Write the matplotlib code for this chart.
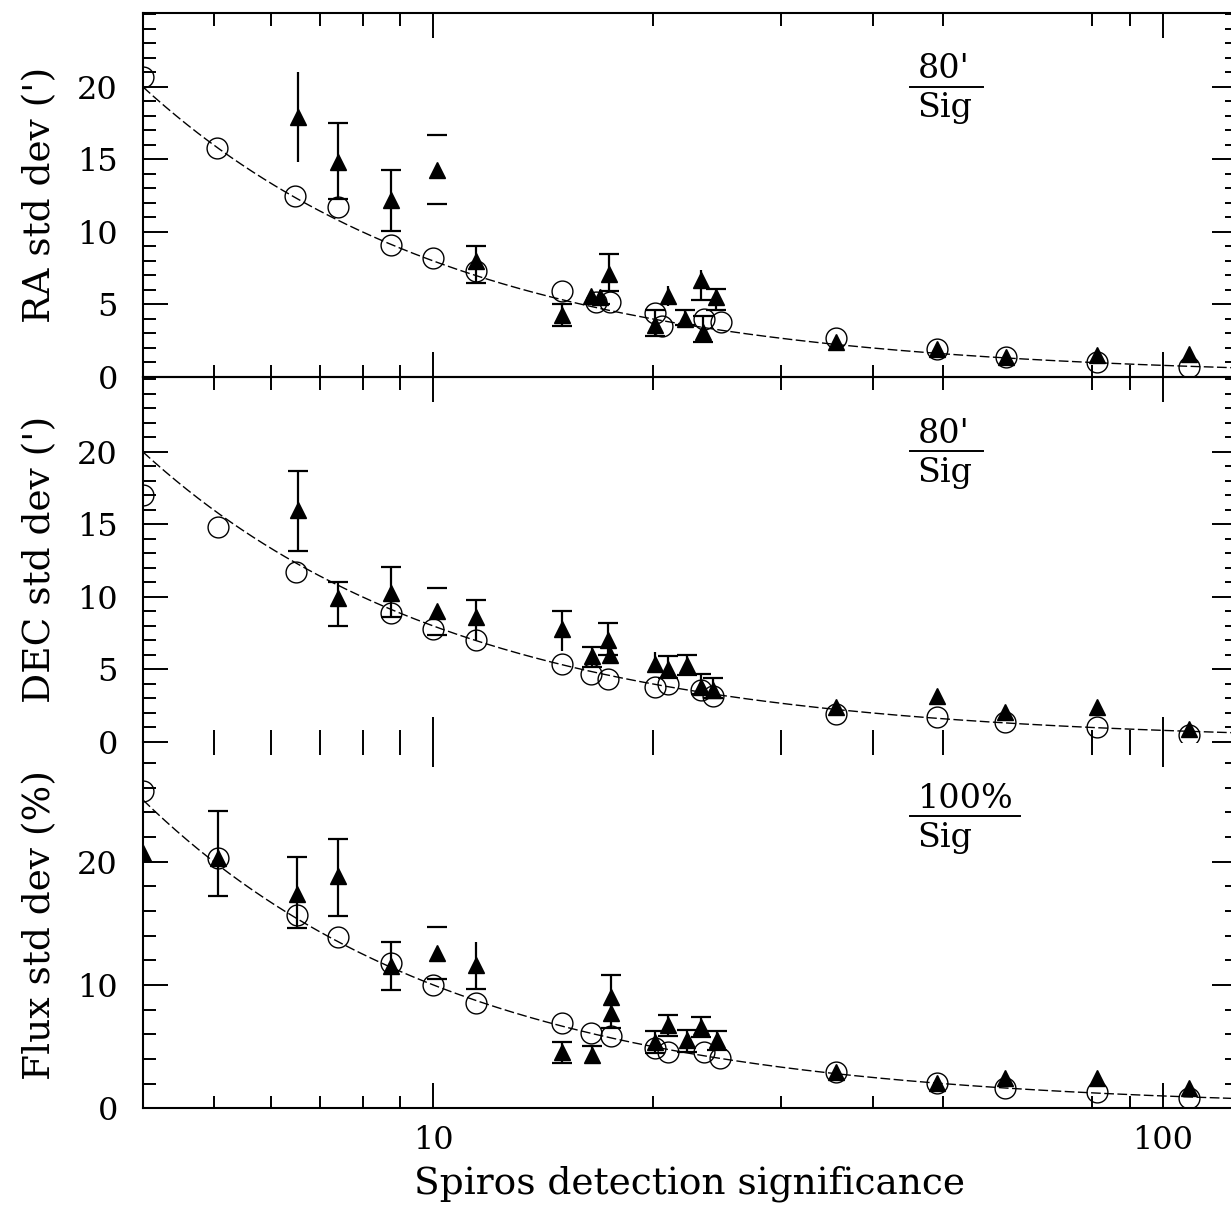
import numpy as np
import matplotlib
matplotlib.use("Agg")
import matplotlib.pyplot as plt
from matplotlib.ticker import FixedLocator, NullFormatter, FixedFormatter

plt.rcParams['font.family'] = ['DejaVu Serif']

W, H, DPI = 1231, 1209, 100

# significance range shown on the x axis
SIG_MIN, SIG_MAX = 4.0, 126.3

# ---------------- RA ----------------
ra_sim_sig = [4.0, 5.06, 6.47, 7.39, 8.75, 10.0, 11.44, 15.0, 16.7, 17.45, 20.1, 20.6,
              23.5, 24.8, 35.6, 49.0, 61.0, 81.3, 108.6]
ra_sim_std = [20.7, 15.8, 12.5, 11.7, 9.1, 8.2, 7.3, 5.9, 5.2, 5.2, 4.4, 3.5,
              4.0, 3.8, 2.7, 1.9, 1.4, 1.0, 0.7]
ra_obs_sig = [6.52, 7.39, 8.75, 10.1, 11.44, 15.0, 16.45, 16.9, 17.4, 20.1, 21.0, 22.1,
              23.3, 23.4, 24.4, 35.6, 49.0, 61.0, 81.3, 108.6]
ra_obs_std = [17.9, 14.8, 12.2, 14.3, 8.0, 4.3, 5.6, 5.5, 7.1, 3.6, 5.6, 4.0,
              6.7, 3.1, 5.5, 2.4, 1.9, 1.4, 1.5, 1.6]
ra_obs_lo = [14.8, 12.3, 10.1, 11.9, 6.5, 3.5, 5.6, 5.0, 5.9, 2.8, 4.9, 3.6,
             5.3, 2.4, 4.6, 2.4, 1.9, 1.4, 1.5, 1.6]
ra_obs_hi = [21.0, 17.5, 14.3, 16.7, 9.0, 5.0, 5.6, 5.9, 8.5, 4.6, 6.3, 4.6,
             7.4, 4.2, 6.1, 2.4, 1.9, 1.4, 1.5, 1.6]
ra_obs_bar = ["L", "LTB", "LTB", "TB", "LTB", "LTB", "", "LB", "LTB", "LTB", "L", "LTB",
              "LB", "LTB", "LTB", "", "", "", "", ""]

# ---------------- DEC ----------------
dec_sim_sig = [4.0, 5.07, 6.48, 8.75, 10.0, 11.44, 15.0, 16.45, 17.35, 20.1, 21.0,
               23.3, 24.2, 35.6, 49.0, 60.7, 81.3, 108.6]
dec_sim_std = [17.0, 14.8, 11.7, 8.9, 7.8, 7.0, 5.4, 4.7, 4.35, 3.8, 4.0,
               3.6, 3.2, 1.95, 1.7, 1.4, 1.03, 0.46]
dec_obs_sig = [6.53, 7.39, 8.75, 10.1, 11.44, 15.0, 16.5, 17.35, 17.45, 20.1, 21.0,
               22.3, 23.3, 24.2, 35.6, 49.0, 60.7, 81.3, 108.6]
dec_obs_std = [16.0, 9.9, 10.3, 9.0, 8.6, 7.8, 5.9, 7.0, 6.0, 5.4, 5.06,
               5.3, 3.8, 3.6, 2.4, 3.2, 2.07, 2.4, 0.92]
dec_obs_lo = [13.2, 8.0, 8.6, 7.4, 7.0, 6.3, 5.2, 6.0, 6.0, 5.4, 4.4,
              4.6, 3.3, 3.0, 2.4, 3.2, 2.07, 2.4, 0.92]
dec_obs_hi = [18.7, 11.0, 12.1, 10.6, 9.8, 9.0, 6.55, 8.2, 6.0, 6.2, 5.9,
              6.0, 4.7, 4.4, 2.4, 3.2, 2.07, 2.4, 0.92]
dec_obs_bar = ["LTB", "LTB", "LTB", "TB", "LT", "LT", "LTB", "LTB", "", "L", "LTB",
               "LTB", "LTB", "LTB", "", "", "", "", ""]

# ---------------- Flux ----------------
flux_sim_sig = [4.0, 5.07, 6.5, 7.39, 8.75, 10.0, 11.44, 15.0, 16.45, 17.5, 20.1,
                21.0, 23.5, 24.7, 35.6, 49.0, 60.7, 81.3, 108.6]
flux_sim_std = [25.7, 20.3, 15.7, 13.9, 11.8, 10.0, 8.5, 6.9, 6.1, 5.9, 4.9,
                4.6, 4.6, 4.05, 2.97, 2.03, 1.62, 1.35, 0.81]
flux_obs_sig = [4.0, 5.07, 6.5, 7.39, 8.75, 10.1, 11.44, 15.0, 16.5, 17.5, 17.5,
                20.1, 21.0, 22.3, 23.3, 24.5, 35.6, 49.0, 60.7, 81.3, 108.6]
flux_obs_std = [20.7, 20.3, 17.4, 18.8, 11.5, 12.6, 11.6, 4.6, 4.3, 9.05, 7.7,
                5.4, 6.75, 5.5, 6.6, 5.5, 2.97, 2.03, 2.43, 2.43, 1.62]
flux_obs_lo = [20.7, 17.2, 14.6, 15.6, 9.6, 10.5, 9.7, 3.65, 4.3, 6.5, 7.7,
               4.5, 5.9, 4.6, 5.8, 4.7, 2.97, 2.03, 2.43, 2.43, 1.62]
flux_obs_hi = [20.7, 24.1, 20.4, 21.8, 13.5, 14.7, 13.5, 5.4, 5.05, 10.8, 7.7,
               6.3, 7.6, 6.35, 7.4, 6.3, 2.97, 2.03, 2.43, 2.43, 1.62]
flux_obs_bar = ["", "LTB", "LTB", "LTB", "LTB", "TB", "LB", "LTB", "LT", "LTB", "",
                "LTB", "LTB", "LTB", "LTB", "LTB", "", "", "", "", ""]

# scaling laws drawn as reference curves (error = coeff / significance)
RA_COEFF, DEC_COEFF, FLUX_COEFF = 80.0, 80.0, 100.0

x_major = [10, 100]
x_major_labels = ["10", "100"]
x_minor = [5, 6, 7, 8, 9, 20, 30, 40, 50, 80, 90]

fig = plt.figure(figsize=(W / DPI, H / DPI), dpi=DPI)
left, width = 143 / W, 1094 / W
ax_ra = fig.add_axes([left, 1 - 377 / H, width, 364 / H])
ax_dec = fig.add_axes([left, 1 - 742 / H, width, 365 / H])
ax_flux = fig.add_axes([left, 1 - 1108.3 / H, width, 366.3 / H])

TICK_FS = 23
LABEL_FS = 27


def draw_panel(ax, sim_x, sim_y, obs_x, obs_y, obs_lo, obs_hi, obs_bar,
               coeff, ylim, ymajor, yminor, ylabel, numer, frac_len):
    xs = np.geomspace(SIG_MIN, SIG_MAX, 400)
    ax.plot(xs, coeff / xs, color='black', lw=1.0, ls=(0, (7, 2.5)), zorder=1)
    ax.plot(sim_x, sim_y, ls='none', marker='o', ms=15, mfc='none',
            mec='black', mew=1.0, zorder=3)
    ax.plot(obs_x, obs_y, ls='none', marker='^', ms=11, color='black', zorder=4)
    for x, y, lo, hi, bar in zip(obs_x, obs_y, obs_lo, obs_hi, obs_bar):
        if 'L' in bar:
            ax.errorbar([x], [y], yerr=[[y - lo], [hi - y]], fmt='none',
                        ecolor='black', elinewidth=1.6, capsize=0, zorder=4)
        if 'T' in bar:
            ax.plot([x], [hi], marker='_', ms=14, mew=1.6, color='black', zorder=4)
        if 'B' in bar:
            ax.plot([x], [lo], marker='_', ms=14, mew=1.6, color='black', zorder=4)

    ax.set_xscale('log')
    ax.set_xlim(SIG_MIN, SIG_MAX)
    ax.set_ylim(*ylim)
    ax.xaxis.set_major_locator(FixedLocator(x_major))
    ax.xaxis.set_minor_locator(FixedLocator(x_minor))
    ax.xaxis.set_minor_formatter(NullFormatter())
    ax.xaxis.set_major_formatter(NullFormatter())
    ax.yaxis.set_major_locator(FixedLocator(ymajor))
    ax.yaxis.set_minor_locator(FixedLocator(yminor))
    ax.yaxis.set_minor_formatter(NullFormatter())
    ax.tick_params(which='both', direction='in', top=True, right=True,
                   width=1.4, color='black', labelsize=TICK_FS)
    ax.tick_params(which='major', length=18, pad=18)
    ax.tick_params(which='minor', length=9)
    for sp in ax.spines.values():
        sp.set_linewidth(1.5)
    ax.set_facecolor('none')

    ax.set_ylabel(ylabel, fontsize=LABEL_FS, va='center')
    ax.yaxis.set_label_coords(-0.0941, 0.5)

    # scaling law written as a fraction
    ax.text(0.708, 0.845, numer, transform=ax.transAxes, ha='left', va='center',
            fontsize=24)
    ax.plot([0.701, 0.701 + frac_len], [0.797, 0.797], transform=ax.transAxes,
            color='black', lw=1.4, clip_on=False)
    ax.text(0.708, 0.738, "Sig", transform=ax.transAxes, ha='left', va='center',
            fontsize=24)


draw_panel(ax_ra, ra_sim_sig, ra_sim_std, ra_obs_sig, ra_obs_std, ra_obs_lo,
           ra_obs_hi, ra_obs_bar, RA_COEFF, (0, 25.1), [0, 5, 10, 15, 20],
           list(range(0, 26)), "RA std dev (')", "80'", 0.067)
draw_panel(ax_dec, dec_sim_sig, dec_sim_std, dec_obs_sig, dec_obs_std, dec_obs_lo,
           dec_obs_hi, dec_obs_bar, DEC_COEFF, (0, 25.17), [0, 5, 10, 15, 20],
           list(range(0, 26)), "DEC std dev (')", "80'", 0.067)
draw_panel(ax_flux, flux_sim_sig, flux_sim_std, flux_obs_sig, flux_obs_std,
           flux_obs_lo, flux_obs_hi, flux_obs_bar, FLUX_COEFF, (0, 29.7),
           [0, 10, 20], list(range(0, 31, 2)), "Flux std dev (%)", "100%", 0.101)

ax_dec.spines['bottom'].set_visible(False)
ax_flux.spines['top'].set_visible(False)

ax_flux.xaxis.set_major_formatter(FixedFormatter(x_major_labels))
ax_flux.tick_params(axis='x', which='major', pad=12)
ax_flux.set_xlabel("Spiros detection significance", fontsize=LABEL_FS, va='center')
ax_flux.xaxis.set_label_coords(0.5, -0.205)

fig.savefig("out.png", dpi=DPI, facecolor='white')
